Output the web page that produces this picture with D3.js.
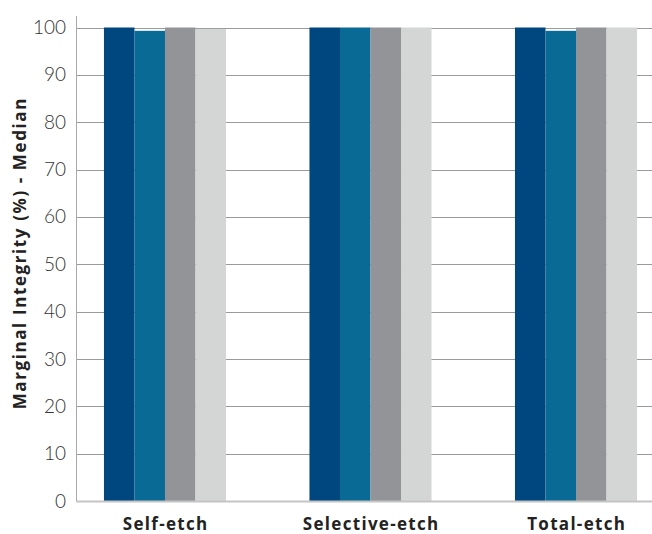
<!DOCTYPE html>
<html><head><meta charset="utf-8">
<script src="https://cdn.jsdelivr.net/npm/d3@7"></script>
<style>body{margin:0;background:#fff;} svg{display:block;}</style>
</head><body>
<svg id="chart" width="652" height="534"></svg>
<script>
const categories = ["Self-etch", "Selective-etch", "Total-etch"];
const seriesNames = ["Series 1", "Series 2", "Series 3", "Series 4"];
const seriesValues = [
  [100, 100, 100],
  [99.3, 100, 99.3],
  [100, 100, 100],
  [99.7, 100, 100]
];
const colors = ["#00467f", "#0a6a96", "#939498", "#d4d6d5"];
const yTicks = [0, 10, 20, 30, 40, 50, 60, 70, 80, 90, 100];
const yTitle = "Marginal Integrity (%) - Median";

const svg = d3.select("#chart");
const mLeft = 76, mRight = 665, mTop = 27.5, mBottom = 501;

const x0 = d3.scaleBand().domain(categories).range([mLeft, mRight]).paddingInner(0.406).paddingOuter(0.136);
const x1 = d3.scaleBand().domain(d3.range(seriesNames.length)).range([0, x0.bandwidth()]);
const y = d3.scaleLinear().domain([0, 100]).range([mBottom, mTop]);

// gridlines
svg.append("g").selectAll("line").data(yTicks.filter(d => d > 0)).join("line")
  .attr("x1", mLeft).attr("x2", 652)
  .attr("y1", d => Math.round(y(d)) + 0.5).attr("y2", d => Math.round(y(d)) + 0.5)
  .attr("stroke", "#9a9a9a").attr("stroke-width", 1);

// bars
const groups = svg.append("g").selectAll("g").data(categories).join("g")
  .attr("transform", d => `translate(${x0(d)},0)`);
groups.selectAll("rect").data((c, ci) => seriesValues.map((s, si) => ({si, v: s[ci]}))).join("rect")
  .attr("x", d => x1(d.si)).attr("width", x1.bandwidth())
  .attr("y", d => y(d.v)).attr("height", d => y(0) - y(d.v))
  .attr("fill", d => colors[d.si]);

// y axis line
svg.append("line").attr("x1", mLeft + 0.5).attr("x2", mLeft + 0.5).attr("y1", 16).attr("y2", mBottom)
  .attr("stroke", "#a8a8a8").attr("stroke-width", 1);
// baseline
svg.append("line").attr("x1", mLeft).attr("x2", 652).attr("y1", mBottom + 0.5).attr("y2", mBottom + 0.5)
  .attr("stroke", "#c4c4c4").attr("stroke-width", 2);

// y axis tick labels
const yAxis = d3.axisLeft(y).tickValues(yTicks).tickSize(0).tickPadding(10);
const gy = svg.append("g").attr("transform", `translate(${mLeft},0)`).call(yAxis);
gy.select(".domain").remove();
gy.selectAll("text").attr("font-family", "Lato, 'Open Sans', sans-serif").attr("font-weight", 300)
  .attr("font-size", 19).attr("fill", "#333");

// x axis labels
const xAxis = d3.axisBottom(x0).tickSize(0).tickPadding(17);
const gx = svg.append("g").attr("transform", `translate(0,${mBottom})`).call(xAxis);
gx.select(".domain").remove();
gx.selectAll("text").attr("font-family", "'Open Sans', sans-serif").attr("font-weight", 700)
  .attr("font-size", 17).attr("letter-spacing", 1.3).attr("dx", 0.65).attr("fill", "#222");

// y title
svg.append("text").attr("transform", `translate(26,${254}) rotate(-90)`)
  .attr("text-anchor", "middle").attr("font-family", "'Open Sans', sans-serif").attr("font-weight", 700)
  .attr("font-size", 17).attr("letter-spacing", 1.6).attr("dx", 0.8).attr("fill", "#222").text(yTitle);
</script>
</body></html>
